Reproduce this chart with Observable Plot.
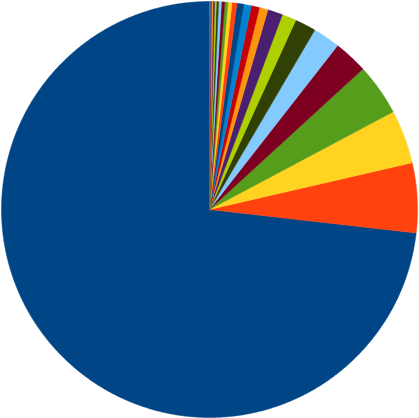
<!DOCTYPE html>
<html><head><meta charset="utf-8">
<script src="https://cdn.jsdelivr.net/npm/d3@7"></script>
<script src="https://cdn.jsdelivr.net/npm/@observablehq/plot@0.6"></script>
<style>body{margin:0;background:#fff}</style>
</head><body><div id="chart"></div>
<script>
// Slices in drawing order (counterclockwise from 12 o'clock)
const categories = ["S1","S2","S3","S4","S5","S6","S7","S8","S9","S10","S11","S12",
  "S13","S14","S15","S16","S17","S18","S19","S20","S21","S22","S23","S24"];
const values = [263.5, 19.5, 15, 14.5, 9.5, 7.6, 5.9, 4.0, 4.2, 2.4, 2.3, 2.1,
  1.9, 1.4, 1.1, 0.9, 0.9, 0.8, 0.6, 0.5, 0.45, 0.4, 0.3, 0.25];
const palette = ["#004586","#ff420e","#ffd320","#579d1c","#7e0021","#83caff",
  "#314004","#aecf00","#4b1f6f","#ff950e","#c5000b","#0084d1"];

const R = 208;
const total = d3.sum(values);
const pts = [];
let cum = 0;
categories.forEach((c, i) => {
  const a0 = 90 + cum / total * 360;
  cum += values[i];
  const a1 = 90 + cum / total * 360;
  pts.push({c, x: 0, y: 0});
  const n = Math.max(2, Math.ceil((a1 - a0) / 0.5));
  for (let k = 0; k <= n; k++) {
    const a = (a0 + (a1 - a0) * k / n) * Math.PI / 180;
    pts.push({c, x: R * Math.cos(a), y: R * Math.sin(a)});
  }
  pts.push({c, x: 0, y: 0});
});

const plot = Plot.plot({
  width: 419, height: 418, margin: 0,
  x: {domain: [-209, 210], axis: null},
  y: {domain: [-209, 209], axis: null},
  color: {domain: categories, range: categories.map((_, i) => palette[i % palette.length])},
  marks: [
    Plot.line(pts, {x: "x", y: "y", z: "c", fill: "c", stroke: "c", strokeWidth: 0.5})
  ]
});
document.getElementById("chart").appendChild(plot);
</script>
</body></html>
